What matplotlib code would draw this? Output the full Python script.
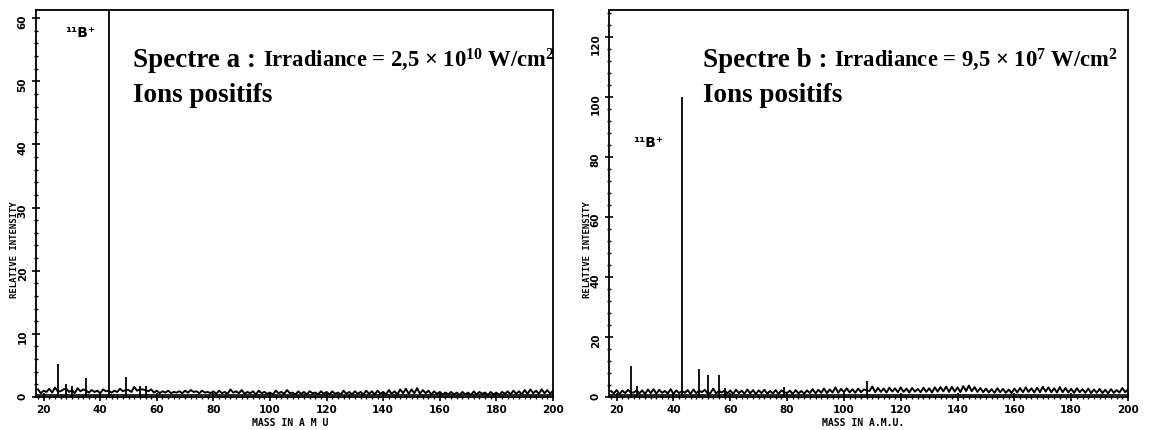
import numpy as np
import matplotlib.pyplot as plt
from matplotlib.ticker import MultipleLocator

# masses 18..200 (one reading per a.m.u.)
mass = np.arange(18, 201)

# spectre a : baseline noise (relative intensity)
noise_a = [1.2, 0.6, 1.0, 0.8, 1.3, 0.7, 1.5, 0.9, 0.9, 1.2,
           1.3, 0.8, 1.1, 0.6, 1.4, 0.9, 1.2, 1.0, 0.7, 1.1,
           0.8, 1.0, 0.6, 1.2, 0.9, 1.0, 0.7, 1.0, 0.8, 1.3,
           0.9, 1.1, 1.1, 0.8, 1.6, 1.0, 1.2, 1.2, 1.1, 0.9,
           1.2, 0.7, 1.0, 0.6, 0.9, 0.7, 1.0, 0.6, 0.8, 0.7,
           0.9, 0.6, 1.0, 0.7, 1.1, 0.8, 0.9, 0.6, 1.0, 0.7,
           0.8, 0.6, 0.9, 0.5, 1.0, 0.6, 0.8, 0.5, 1.2, 0.7,
           0.9, 0.6, 1.1, 0.5, 0.8, 0.6, 0.9, 0.4, 1.0, 0.6,
           0.8, 0.5, 0.7, 0.4, 1.0, 0.6, 0.8, 0.5, 1.1, 0.6,
           0.7, 0.4, 0.9, 0.5, 0.8, 0.4, 0.9, 0.6, 0.7, 0.4,
           0.9, 0.5, 0.8, 0.4, 0.9, 0.5, 0.7, 0.4, 1.0, 0.5,
           0.8, 0.4, 0.9, 0.5, 0.8, 0.4, 1.0, 0.5, 0.9, 0.4,
           1.0, 0.5, 0.8, 0.4, 1.1, 0.5, 0.9, 0.4, 1.2, 0.6,
           1.3, 0.5, 1.2, 0.6, 1.4, 0.5, 1.1, 0.6, 1.0, 0.4,
           0.9, 0.5, 0.8, 0.4, 0.7, 0.4, 0.8, 0.4, 0.7, 0.3,
           0.8, 0.4, 0.7, 0.3, 0.9, 0.4, 0.8, 0.5, 0.7, 0.3,
           0.8, 0.4, 0.7, 0.3, 0.8, 0.5, 0.9, 0.4, 1.0, 0.5,
           0.9, 0.4, 1.1, 0.5, 1.2, 0.6, 1.0, 0.5, 1.2, 0.6,
           1.1, 0.5, 1.0]
peaks_a_mass = [25, 28, 30, 35, 43, 49, 54, 56]
peaks_a_int = [5.3, 2.1, 1.7, 3.0, 100, 3.2, 1.8, 1.7]

# spectre b
noise_b = [2.0, 1.2, 2.3, 1.0, 2.1, 1.3, 2.4, 1.5, 1.5, 2.2,
           1.2, 2.2, 1.0, 2.5, 1.3, 2.6, 1.1, 2.4, 1.4, 2.0,
           1.2, 2.6, 1.0, 2.2, 1.3, 2.0, 1.4, 2.3, 1.0, 2.5,
           1.3, 2.1, 1.6, 2.4, 1.2, 1.3, 2.8, 1.2, 2.0, 1.5,
           2.2, 1.2, 2.2, 1.0, 2.4, 1.3, 2.1, 1.1, 2.5, 1.2,
           2.3, 1.0, 2.2, 1.3, 2.4, 1.1, 2.0, 1.2, 2.3, 1.0,
           2.2, 1.5, 1.4, 2.1, 1.0, 2.3, 1.2, 2.0, 1.1, 2.2,
           1.3, 2.6, 1.2, 2.4, 1.4, 2.8, 1.3, 2.5, 1.5, 3.2,
           1.4, 2.7, 1.6, 2.9, 1.5, 2.6, 1.4, 2.8, 1.6, 2.5,
           2.2, 2.0, 3.5, 1.6, 3.0, 1.7, 2.8, 1.5, 3.1, 1.8,
           2.9, 1.6, 3.2, 1.7, 2.8, 1.5, 3.0, 1.8, 2.7, 1.6,
           3.1, 1.7, 2.9, 1.5, 3.2, 1.8, 3.3, 1.9, 3.5, 1.7,
           3.4, 1.8, 3.2, 1.6, 3.6, 2.0, 3.8, 1.9, 3.3, 1.7,
           3.0, 1.6, 2.8, 1.5, 2.6, 1.4, 2.9, 1.6, 2.7, 1.4,
           2.5, 1.3, 2.8, 1.5, 3.0, 1.6, 3.2, 1.7, 2.9, 1.5,
           3.1, 1.6, 3.4, 1.8, 3.2, 1.6, 2.9, 1.5, 3.3, 1.6,
           3.0, 1.5, 2.7, 1.4, 2.9, 1.6, 2.6, 1.4, 2.8, 1.3,
           2.5, 1.4, 2.7, 1.3, 2.4, 1.2, 2.6, 1.4, 2.3, 1.5,
           3.0, 1.6, 2.6]
peaks_b_mass = [25, 27, 43, 49, 52, 56, 58, 79, 108]
peaks_b_int = [10.3, 3.8, 100, 9.5, 7.5, 7.5, 3.0, 3.2, 5.2]

plt.rcParams['mathtext.fontset'] = 'custom'
plt.rcParams['mathtext.rm'] = 'Liberation Serif:bold'
plt.rcParams['mathtext.bf'] = 'Liberation Serif:bold'
plt.rcParams['mathtext.it'] = 'Liberation Serif:bold:italic'

fig = plt.figure(figsize=(11.49, 4.30), dpi=100)
ax_a = fig.add_axes([36/1149, 1-397/430, 517/1149, 387/430])
ax_b = fig.add_axes([609/1149, 1-397/430, 519/1149, 387/430])

panels = [
    (ax_a, noise_a, peaks_a_mass, peaks_a_int, 61.3, 10, 2, 'a', '2,5', '10',
     'MASS IN A M U', (65, 33), 0.188),
    (ax_b, noise_b, peaks_b_mass, peaks_b_int, 129, 20, 4, 'b', '9,5', '7',
     'MASS IN A.M.U.', (633, 143), 0.181),
]

for ax, noise, pm, pi, ytop, ymaj, ymin, letter, irr, expo, xlab, bpos, tx in panels:
    ax.plot(mass, noise, color='black', lw=1.4)
    ax.vlines(pm, 0, pi, color='black', lw=1.3)
    ax.axhline(0.3 if letter == 'a' else 0.8, color='black', lw=1.2)
    ax.set_xlim(17.3, 200)
    ax.set_ylim(0, ytop)
    ax.xaxis.set_major_locator(MultipleLocator(20))
    ax.xaxis.set_minor_locator(MultipleLocator(2))
    ax.yaxis.set_major_locator(MultipleLocator(ymaj))
    ax.yaxis.set_minor_locator(MultipleLocator(ymin))
    ax.tick_params(which='major', direction='inout', length=6, width=1.2,
                   labelsize=7.5, pad=3)
    ax.tick_params(which='minor', direction='inout', length=3, width=1.0)
    ax.tick_params(axis='y', labelrotation=90)
    for lab in ax.get_xticklabels() + ax.get_yticklabels():
        lab.set_fontweight('bold')
    for sp in ax.spines.values():
        sp.set_linewidth(1.3)

    # axis titles, plotter style
    x0 = ax.get_position().x0
    fig.text(x0 - 21/1149, 1-250/430, 'RELATIVE INTENSITY', rotation=90,
             fontsize=6.5, fontweight='bold', ha='center', va='center',
             family='DejaVu Sans Mono')
    x_c = (ax.get_position().x0 + 254/1149)
    fig.text(x_c, 1-423/430, xlab, fontsize=7, fontweight='bold',
             ha='center', va='center', family='DejaVu Sans Mono')

    fig.text(bpos[0]/1149, 1-bpos[1]/430, '¹¹B⁺', fontsize=10,
             fontweight='bold', ha='left', va='center', family='DejaVu Sans')

    t1 = ax.text(tx, 0.853, 'Spectre %s : ' % letter, transform=ax.transAxes,
                 fontsize=19.5, fontweight='bold', family='Liberation Serif',
                 ha='left', va='baseline')
    ax.annotate('Irradiance = %s × 10$^{%s}$ W/cm$^{2}$' % (irr, expo),
                xy=(1, 0), xycoords=t1, ha='left', va='bottom',
                fontsize=16.3, fontweight='bold', family='Liberation Serif')
    ax.text(tx, 0.762, 'Ions positifs', transform=ax.transAxes,
            fontsize=19.5, fontweight='bold', family='Liberation Serif',
            ha='left', va='baseline')

fig.savefig('out.png', dpi=100)
